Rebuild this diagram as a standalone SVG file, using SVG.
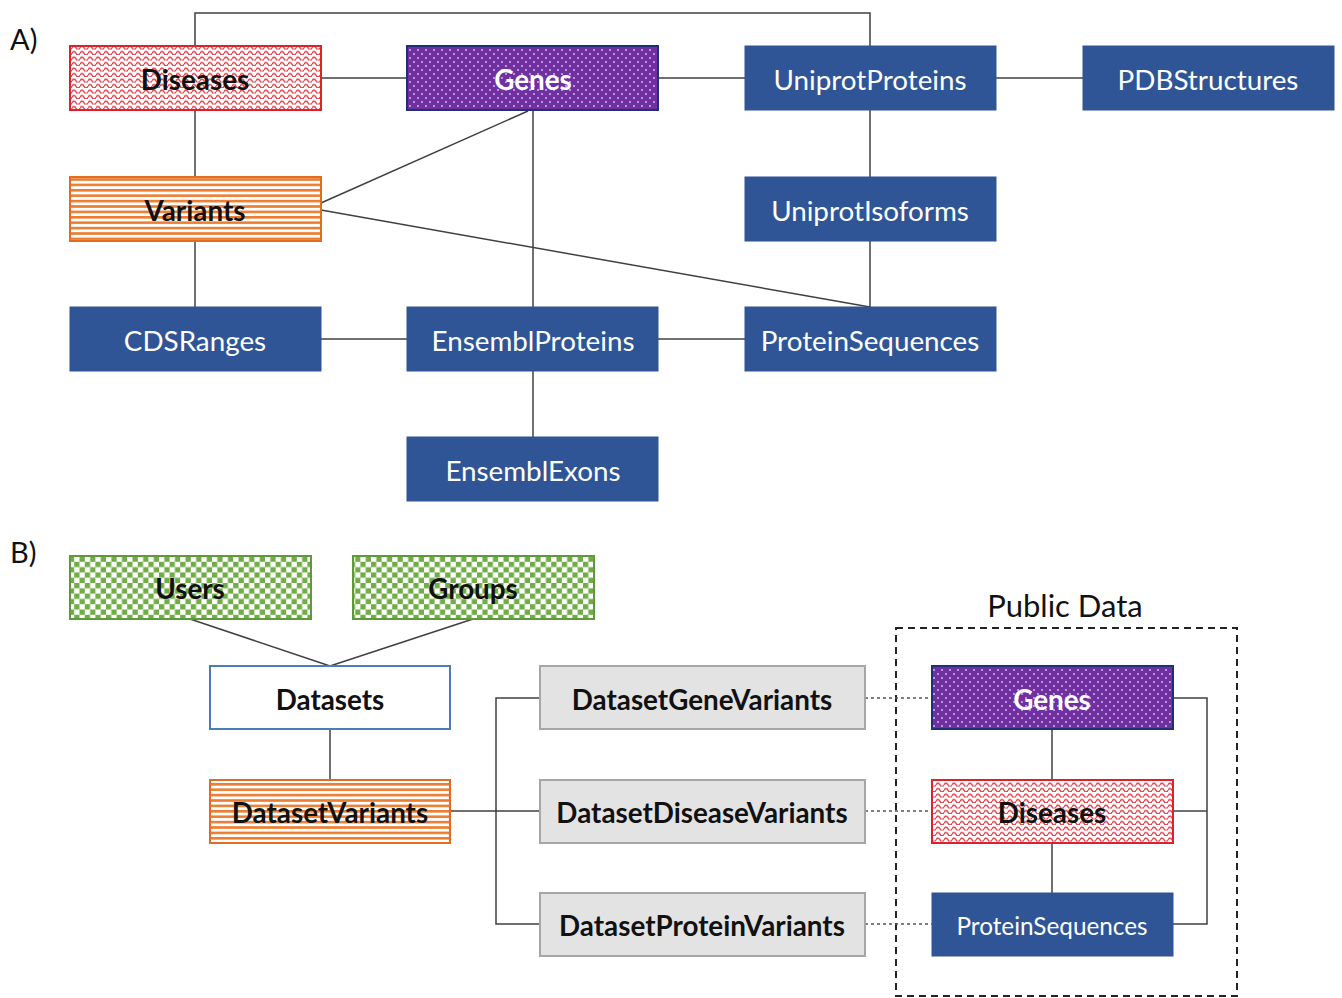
<svg xmlns="http://www.w3.org/2000/svg" width="1342" height="998" viewBox="0 0 1342 998">
<style>
.bg{fill:#ffffff}
.blue{fill:#2F5597;stroke:#2F5597;stroke-width:1}
.wt{font-family:Lato,"Liberation Sans",sans-serif;font-size:27.8px;fill:#ffffff;text-anchor:middle;dominant-baseline:central}
.bt{font-family:Lato,"Liberation Sans",sans-serif;font-size:27.8px;font-weight:bold;fill:#111111;text-anchor:middle;dominant-baseline:central}
.bw{font-family:Lato,"Liberation Sans",sans-serif;font-size:27.8px;font-weight:bold;fill:#ffffff;text-anchor:middle;dominant-baseline:central}
.lab{font-family:Lato,"Liberation Sans",sans-serif;font-size:29px;fill:#111111}
.ln{fill:none;stroke:#404040;stroke-width:1.5}
.dot{fill:none;stroke:#555555;stroke-width:1.5;stroke-dasharray:3,3}
.dis{fill:url(#zig);stroke:#E0202A;stroke-width:2}
.gen{fill:url(#dots);stroke:#1F2F7A;stroke-width:2}
.var{fill:url(#stripes);stroke:#E36C1F;stroke-width:2}
.grn{fill:url(#check);stroke:#5E9A3A;stroke-width:2}
.gry{fill:#E3E3E3;stroke:#A6A6A6;stroke-width:2}
.ds{fill:#ffffff;stroke:#4A7EBB;stroke-width:2}
</style>
<defs>
<pattern id="zig" width="8" height="5.5" patternUnits="userSpaceOnUse">
<rect width="8" height="5.5" fill="#ffffff"/>
<path d="M0 3.8 Q2 0.3 4 3.8 T8 3.8" fill="none" stroke="#E4363F" stroke-width="1.3"/>
</pattern>
<pattern id="dots" width="8" height="8" patternUnits="userSpaceOnUse">
<rect width="8" height="8" fill="#7030A0"/>
<circle cx="2" cy="2" r="0.9" fill="#D9C6EE"/>
<circle cx="6" cy="6" r="0.9" fill="#D9C6EE"/>
</pattern>
<pattern id="stripes" width="10" height="5.4" patternUnits="userSpaceOnUse">
<rect width="10" height="5.4" fill="#ffffff"/>
<rect width="10" height="2.6" fill="#ED7D31"/>
</pattern>
<pattern id="check" width="10.6" height="10.6" patternUnits="userSpaceOnUse">
<rect width="10.6" height="10.6" fill="#ffffff"/>
<rect width="5.3" height="5.3" fill="#70AD47"/>
<rect x="5.3" y="5.3" width="5.3" height="5.3" fill="#70AD47"/>
</pattern>
</defs>
<rect class="bg" x="0" y="0" width="1342" height="998"/>
<text class="lab" x="10" y="50">A)</text>
<text class="lab" x="10" y="563">B)</text>
<text class="lab" x="1065" y="617" text-anchor="middle" style="font-size:31px">Public Data</text>
<rect x="896" y="628" width="341" height="368" fill="none" stroke="#222222" stroke-width="2" stroke-dasharray="7,5"/>
<g id="connectors">
<polyline class="ln" points="195,46 195,13 870,13 870,46"/>
<line class="ln" x1="321" y1="78" x2="407" y2="78"/>
<line class="ln" x1="658" y1="78" x2="745" y2="78"/>
<line class="ln" x1="996" y1="78" x2="1083" y2="78"/>
<line class="ln" x1="195" y1="110" x2="195" y2="177"/>
<line class="ln" x1="195" y1="241" x2="195" y2="307"/>
<line class="ln" x1="528" y1="111" x2="321" y2="203"/>
<line class="ln" x1="533" y1="110" x2="533" y2="307"/>
<line class="ln" x1="321" y1="210" x2="870" y2="307"/>
<line class="ln" x1="870" y1="110" x2="870" y2="177"/>
<line class="ln" x1="870" y1="241" x2="870" y2="307"/>
<line class="ln" x1="321" y1="339" x2="407" y2="339"/>
<line class="ln" x1="658" y1="339" x2="745" y2="339"/>
<line class="ln" x1="533" y1="371" x2="533" y2="437"/>
<line class="ln" x1="190" y1="619" x2="330" y2="666"/>
<line class="ln" x1="473" y1="619" x2="330" y2="666"/>
<line class="ln" x1="330" y1="729" x2="330" y2="780"/>
<line class="ln" x1="450" y1="811" x2="540" y2="811"/>
<polyline class="ln" points="540,698 496,698 496,924 540,924"/>
<line class="dot" x1="865" y1="698" x2="932" y2="698"/>
<line class="dot" x1="865" y1="811" x2="932" y2="811"/>
<line class="dot" x1="865" y1="924" x2="932" y2="924"/>
<polyline class="ln" points="1173,698 1207,698 1207,924 1173,924"/>
<line class="ln" x1="1173" y1="811" x2="1207" y2="811"/>
<line class="ln" x1="1052" y1="729" x2="1052" y2="780"/>
<line class="ln" x1="1052" y1="843" x2="1052" y2="893"/>
</g>
<g id="a-diseases"><rect class="dis" x="70" y="46" width="251" height="64"/><text class="bt" x="195" y="79">Diseases</text></g>
<g id="a-genes"><rect class="gen" x="407" y="46" width="251" height="64"/><text class="bw" x="533" y="79">Genes</text></g>
<g id="a-uniprotproteins"><rect class="blue" x="745" y="46" width="251" height="64"/><text class="wt" x="870" y="79">UniprotProteins</text></g>
<g id="a-pdbstructures"><rect class="blue" x="1083" y="46" width="251" height="64"/><text class="wt" x="1208" y="79">PDBStructures</text></g>
<g id="a-variants"><rect class="var" x="70" y="177" width="251" height="64"/><text class="bt" x="195" y="210">Variants</text></g>
<g id="a-uniprotisoforms"><rect class="blue" x="745" y="177" width="251" height="64"/><text class="wt" x="870" y="210">UniprotIsoforms</text></g>
<g id="a-cdsranges"><rect class="blue" x="70" y="307" width="251" height="64"/><text class="wt" x="195" y="340">CDSRanges</text></g>
<g id="a-ensemblproteins"><rect class="blue" x="407" y="307" width="251" height="64"/><text class="wt" x="533" y="340">EnsemblProteins</text></g>
<g id="a-proteinsequences"><rect class="blue" x="745" y="307" width="251" height="64"/><text class="wt" x="870" y="340">ProteinSequences</text></g>
<g id="a-ensemblexons"><rect class="blue" x="407" y="437" width="251" height="64"/><text class="wt" x="533" y="470">EnsemblExons</text></g>
<g id="b-users"><rect class="grn" x="70" y="556" width="241" height="63"/><text class="bt" x="190" y="588">Users</text></g>
<g id="b-groups"><rect class="grn" x="353" y="556" width="241" height="63"/><text class="bt" x="473" y="588">Groups</text></g>
<g id="b-datasets"><rect class="ds" x="210" y="666" width="240" height="63"/><text class="bt" x="330" y="699">Datasets</text></g>
<g id="b-datasetvariants"><rect class="var" x="210" y="780" width="240" height="63"/><text class="bt" x="330" y="812">DatasetVariants</text></g>
<g id="b-datasetgenevariants"><rect class="gry" x="540" y="666" width="325" height="63"/><text class="bt" x="702" y="699">DatasetGeneVariants</text></g>
<g id="b-datasetdiseasevariants"><rect class="gry" x="540" y="780" width="325" height="63"/><text class="bt" x="702" y="812">DatasetDiseaseVariants</text></g>
<g id="b-datasetproteinvariants"><rect class="gry" x="540" y="893" width="325" height="63"/><text class="bt" x="702" y="925">DatasetProteinVariants</text></g>
<g id="b-genes"><rect class="gen" x="932" y="666" width="241" height="63"/><text class="bw" x="1052" y="699">Genes</text></g>
<g id="b-diseases"><rect class="dis" x="932" y="780" width="241" height="63"/><text class="bt" x="1052" y="812">Diseases</text></g>
<g id="b-proteinsequences"><rect class="blue" x="932" y="893" width="241" height="63"/><text class="wt" x="1052" y="925" style="font-size:24.3px">ProteinSequences</text></g>
</svg>
